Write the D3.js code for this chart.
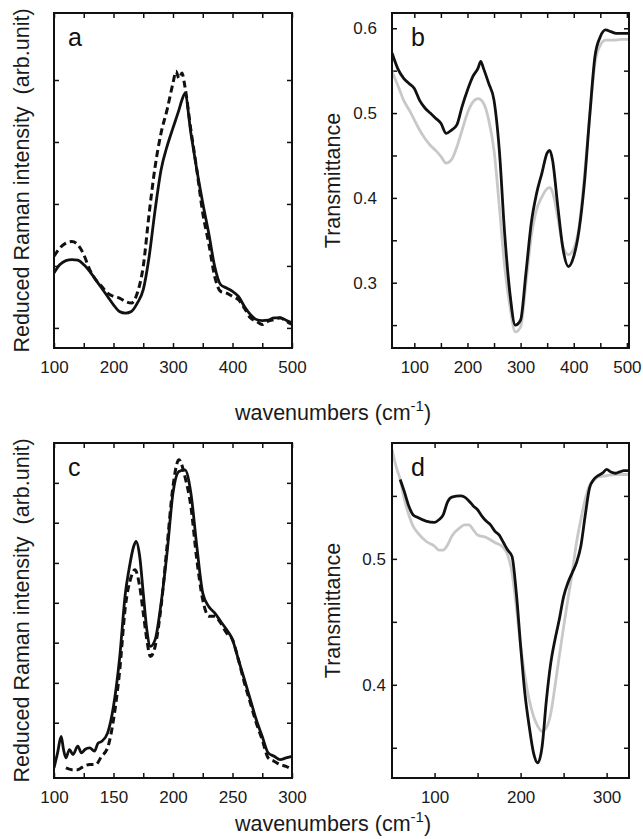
<!DOCTYPE html>
<html>
<head>
<meta charset="utf-8">
<script src="https://cdn.jsdelivr.net/npm/d3@7"></script>
<style>
  body { margin: 0; background: #fff; }
  svg { display: block; font-family: "Liberation Sans", Arial, sans-serif; }
</style>
</head>
<body>
<div id="graph"></div>
<script>
// ---- panel a : Raman, 100-500 cm-1 ----
var aSolidX = [100,110,120,130,140,150,160,170,180,190,200,210,220,230,240,250,260,270,280,290,300,310,315,320,330,340,350,360,370,380,390,400,410,420,430,440,450,460,470,480,490,500];
var aSolidY = [0.224,0.249,0.261,0.264,0.262,0.249,0.229,0.204,0.179,0.154,0.129,0.109,0.104,0.109,0.134,0.174,0.274,0.413,0.532,0.602,0.657,0.711,0.740,0.760,0.642,0.532,0.433,0.343,0.244,0.189,0.179,0.169,0.154,0.124,0.100,0.085,0.082,0.083,0.090,0.090,0.083,0.075];
var aDashX = [100,110,120,130,140,150,160,170,180,190,200,210,220,230,240,250,260,270,280,290,300,305,310,315,320,330,340,350,360,370,380,390,400,410,420,430,440,450,460,470,480,490,500];
var aDashY = [0.274,0.299,0.313,0.318,0.308,0.279,0.234,0.204,0.184,0.164,0.154,0.149,0.139,0.134,0.164,0.244,0.403,0.542,0.642,0.711,0.791,0.826,0.805,0.821,0.781,0.652,0.532,0.403,0.313,0.214,0.169,0.164,0.154,0.144,0.119,0.090,0.080,0.070,0.080,0.085,0.090,0.080,0.070];
var aTicksX = [100,150,200,250,300,350,400,450,500];
var aLabelsX = [100,200,300,400,500];
var aTicksY = [0.06,0.245,0.43,0.615,0.80];

// ---- panel b : IR transmittance, 60-500 cm-1 ----
var bBlackX = [58,70,80,90,100,110,120,130,140,150,160,170,180,190,200,210,220,225,230,240,250,260,270,280,290,300,310,320,330,340,350,355,360,370,380,390,400,410,420,430,440,450,460,470,480,490,504];
var bBlackY = [0.571,0.551,0.541,0.535,0.529,0.515,0.506,0.500,0.494,0.488,0.476,0.480,0.486,0.508,0.527,0.543,0.553,0.561,0.553,0.535,0.515,0.456,0.358,0.287,0.250,0.256,0.311,0.370,0.405,0.429,0.453,0.456,0.445,0.390,0.339,0.319,0.331,0.362,0.417,0.496,0.567,0.590,0.598,0.596,0.594,0.594,0.594];
var bGrayX = [58,70,80,90,100,110,120,130,140,150,160,170,180,190,200,210,220,230,240,250,260,270,280,290,300,310,320,330,340,350,355,360,370,380,390,400,410,420,430,440,450,460,470,480,490,504];
var bGrayY = [0.549,0.531,0.515,0.504,0.492,0.480,0.470,0.462,0.456,0.449,0.441,0.445,0.460,0.480,0.500,0.513,0.517,0.512,0.492,0.456,0.390,0.319,0.272,0.242,0.248,0.299,0.354,0.386,0.401,0.411,0.412,0.407,0.377,0.342,0.333,0.340,0.366,0.425,0.496,0.559,0.580,0.586,0.586,0.586,0.587,0.587];
var bTicksX = [100,150,200,250,300,350,400,450,500];
var bLabelsX = [100,200,300,400,500];
var bTicksY = [0.25,0.3,0.35,0.4,0.45,0.5,0.55,0.6];
var bLabelsY = [0.3,0.4,0.5,0.6];

// ---- panel c : Raman, 100-300 cm-1 ----
var cSolidX = [100,103,106,108,110,113,116,120,123,126,130,134,137,140,145,150,155,160,163,167,169,172,175,178,181,185,190,195,200,205,210,215,220,225,230,235,240,245,250,255,260,265,270,275,280,285,290,295,300];
var cSolidY = [0.030,0.075,0.124,0.085,0.060,0.085,0.070,0.095,0.075,0.085,0.090,0.080,0.104,0.109,0.134,0.214,0.353,0.552,0.622,0.692,0.706,0.662,0.552,0.443,0.393,0.413,0.522,0.672,0.851,0.915,0.920,0.851,0.692,0.552,0.512,0.493,0.468,0.443,0.413,0.353,0.294,0.234,0.174,0.124,0.075,0.065,0.055,0.060,0.065];
var cDashX = [110,115,120,125,130,135,140,145,150,155,160,165,168,172,175,178,181,185,190,195,200,205,210,215,220,225,230,235,240,245,250,255,260,265,270,275,280,285,290,295,300];
var cDashY = [0.030,0.025,0.025,0.035,0.040,0.040,0.065,0.090,0.174,0.313,0.512,0.602,0.622,0.572,0.493,0.413,0.363,0.393,0.512,0.692,0.871,0.950,0.900,0.811,0.652,0.532,0.483,0.483,0.463,0.433,0.413,0.353,0.284,0.224,0.164,0.114,0.060,0.050,0.040,0.035,0.025];
var cTicksX = [100,125,150,175,200,225,250,275,300];
var cLabelsX = [100,150,200,250,300];
var cTicksY = [0.165,0.284,0.404,0.523,0.642,0.762,0.881];

// ---- panel d : IR transmittance, 50-325 cm-1 ----
var dBlackX = [60,65,70,75,80,90,100,105,110,115,120,130,135,140,145,150,155,160,165,170,175,180,185,190,195,200,205,210,215,220,225,230,235,240,245,250,255,260,265,270,275,280,285,290,295,300,305,310,315,320,326];
var dBlackY = [0.563,0.553,0.542,0.535,0.533,0.530,0.529,0.531,0.535,0.545,0.549,0.550,0.549,0.546,0.542,0.539,0.534,0.530,0.527,0.522,0.519,0.513,0.507,0.502,0.473,0.431,0.393,0.367,0.346,0.338,0.351,0.388,0.417,0.436,0.452,0.470,0.481,0.489,0.497,0.510,0.534,0.556,0.563,0.566,0.568,0.571,0.569,0.568,0.569,0.570,0.570];
var dGrayX = [50.5,55,60,65,70,75,80,90,100,105,110,115,120,130,135,140,145,150,160,170,180,185,190,195,200,205,210,215,220,225,230,235,240,245,250,255,260,265,270,275,280,285,290,300,310,326];
var dGrayY = [0.587,0.574,0.563,0.547,0.535,0.526,0.521,0.514,0.510,0.507,0.507,0.511,0.518,0.525,0.527,0.527,0.523,0.519,0.517,0.513,0.509,0.503,0.489,0.462,0.431,0.407,0.388,0.375,0.367,0.363,0.366,0.377,0.399,0.423,0.446,0.468,0.489,0.513,0.531,0.547,0.558,0.562,0.565,0.566,0.567,0.567];
var dTicksX = [100,150,200,250,300];
var dLabelsX = [100,200,300];
var dTicksY = [0.35,0.4,0.45,0.5,0.55];
var dLabelsY = [0.4,0.5];

var panels = [
  { letter: "a", box: [54, 292, 13, 348], xDom: [100, 500], yDom: [0, 1],
    ticksX: aTicksX, labelsX: aLabelsX, ticksY: aTicksY, labelsY: [], pad: 0,
    series: [
      { x: aSolidX, y: aSolidY, color: "#111", dash: null },
      { x: aDashX, y: aDashY, color: "#111", dash: "7,4" }
    ] },
  { letter: "b", box: [392, 629, 13, 348], xDom: [58, 504], yDom: [0.223, 0.618],
    ticksX: bTicksX, labelsX: bLabelsX, ticksY: bTicksY, labelsY: bLabelsY, pad: 15,
    series: [
      { x: bGrayX, y: bGrayY, color: "#c8c8c8", dash: null },
      { x: bBlackX, y: bBlackY, color: "#111", dash: null }
    ] },
  { letter: "c", box: [54, 292, 443, 778], xDom: [100, 300], yDom: [0, 1],
    ticksX: cTicksX, labelsX: cLabelsX, ticksY: cTicksY, labelsY: [], pad: 0,
    series: [
      { x: cSolidX, y: cSolidY, color: "#111", dash: null },
      { x: cDashX, y: cDashY, color: "#111", dash: "7,4" }
    ] },
  { letter: "d", box: [392, 629, 443, 778], xDom: [50.5, 326], yDom: [0.326, 0.592],
    ticksX: dTicksX, labelsX: dLabelsX, ticksY: dTicksY, labelsY: dLabelsY, pad: 6,
    series: [
      { x: dGrayX, y: dGrayY, color: "#c8c8c8", dash: null },
      { x: dBlackX, y: dBlackY, color: "#111", dash: null }
    ] }
];

var svg = d3.select("#graph").append("svg")
    .attr("width", 643)
    .attr("height", 839);

function hasVal(list, v) {
  return list.some(function (t) { return Math.abs(t - v) < 1e-9; });
}

panels.forEach(function (p) {
  var x = d3.scaleLinear().domain(p.xDom).range([p.box[0], p.box[1]]);
  var y = d3.scaleLinear().domain(p.yDom).range([p.box[3], p.box[2]]);
  var g = svg.append("g");

  var bottom = d3.axisBottom(x).tickValues(p.ticksX).tickSizeInner(-5).tickSizeOuter(0).tickPadding(13)
    .tickFormat(function (v) { return hasVal(p.labelsX, v) ? v : ""; });
  var top = d3.axisTop(x).tickValues(p.ticksX).tickSizeInner(-5).tickSizeOuter(0).tickFormat("");
  var left = d3.axisLeft(y).tickValues(p.ticksY).tickSizeInner(-5).tickSizeOuter(0).tickPadding(p.pad)
    .tickFormat(function (v) { return hasVal(p.labelsY, v) ? d3.format(".1f")(v) : ""; });
  var right = d3.axisRight(y).tickValues(p.ticksY).tickSizeInner(-5).tickSizeOuter(0).tickFormat("");

  g.append("g").attr("transform", "translate(0," + p.box[3] + ")").call(bottom);
  g.append("g").attr("transform", "translate(0," + p.box[2] + ")").call(top);
  g.append("g").attr("transform", "translate(" + p.box[0] + ",0)").call(left);
  g.append("g").attr("transform", "translate(" + p.box[1] + ",0)").call(right);

  g.selectAll(".domain").remove();
  g.selectAll(".tick line").attr("stroke", "#111").attr("stroke-width", 1.5);
  g.selectAll(".tick text").attr("font-size", 17).attr("fill", "#1a1a1a")
    .attr("font-family", "'Liberation Sans', Arial, sans-serif");

  var clipId = "clip-" + p.letter;
  svg.append("clipPath").attr("id", clipId).append("rect")
    .attr("x", p.box[0]).attr("y", p.box[2])
    .attr("width", p.box[1] - p.box[0]).attr("height", p.box[3] - p.box[2]);

  p.series.forEach(function (s) {
    var pts = s.x.map(function (v, i) { return [v, s.y[i]]; });
    var line = d3.line()
      .x(function (d) { return x(d[0]); })
      .y(function (d) { return y(d[1]); })
      .curve(d3.curveMonotoneX);
    g.append("path")
      .datum(pts)
      .attr("clip-path", "url(#" + clipId + ")")
      .attr("fill", "none")
      .attr("stroke", s.color)
      .attr("stroke-width", s.dash ? 3 : 2.8)
      .attr("stroke-linejoin", "round")
      .attr("stroke-dasharray", s.dash)
      .attr("d", line);
  });

  g.append("rect")
    .attr("x", p.box[0]).attr("y", p.box[2])
    .attr("width", p.box[1] - p.box[0]).attr("height", p.box[3] - p.box[2])
    .attr("fill", "none").attr("stroke", "#111").attr("stroke-width", 2);

  g.append("text")
    .attr("x", p.box[0] + (p.letter == "a" || p.letter == "c" ? 14 : 19))
    .attr("y", p.box[2] + 33)
    .attr("font-size", 25).attr("fill", "#111")
    .text(p.letter);
});

// axis titles
[180.5, 610.5].forEach(function (cy) {
  svg.append("text")
    .attr("transform", "translate(29," + cy + ") rotate(-90)")
    .attr("text-anchor", "middle")
    .attr("font-size", 21.5).attr("fill", "#1a1a1a")
    .style("white-space", "pre")
    .text("Reduced Raman intensity  (arb.unit)");
  svg.append("text")
    .attr("transform", "translate(340," + cy + ") rotate(-90)")
    .attr("text-anchor", "middle")
    .attr("font-size", 21.5).attr("fill", "#1a1a1a")
    .text("Transmittance");
});

[420, 831].forEach(function (by) {
  var t = svg.append("text")
    .attr("x", 333).attr("y", by)
    .attr("text-anchor", "middle")
    .attr("font-size", 21.5).attr("fill", "#1a1a1a");
  t.append("tspan").text("wavenumbers (cm");
  t.append("tspan").attr("dy", -9).attr("font-size", 15).text("-1");
  t.append("tspan").attr("dy", 9).text(")");
});
</script>
</body>
</html>
